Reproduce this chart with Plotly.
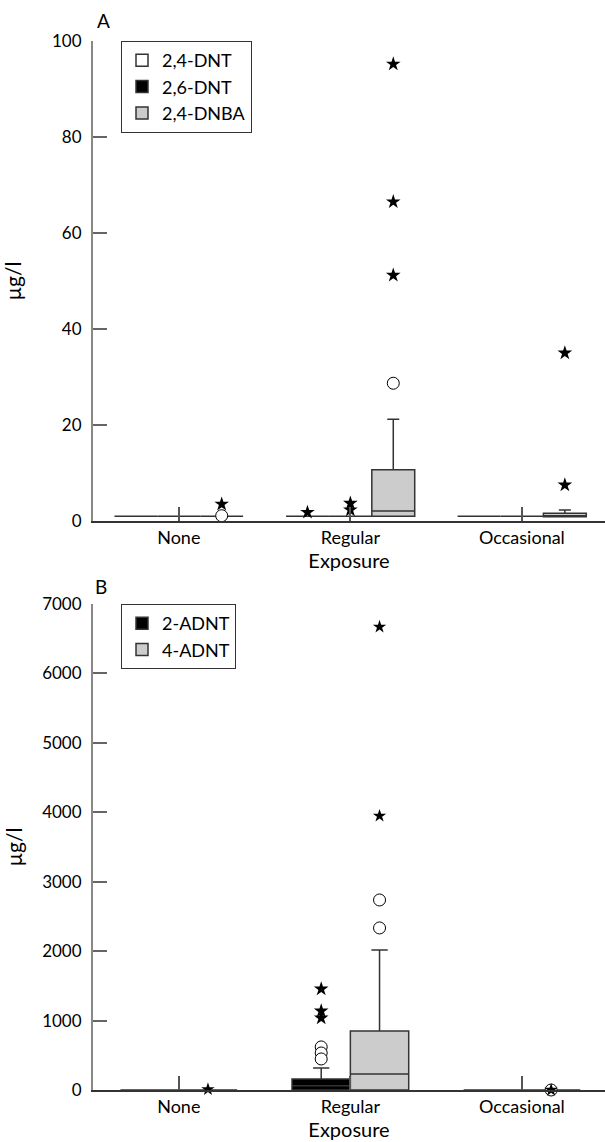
import plotly.graph_objects as go

# ---------------- data ----------------
categories = ["None", "Regular", "Occasional"]
cat_pos = [0, 1, 2]

# Panel A: nitrotoluenes in urine (ug/l)
dnt24_q1 = [1.0, 1.0, 1.0]
dnt24_med = [1.0, 1.0, 1.0]
dnt24_q3 = [1.0, 1.0, 1.0]
dnt24_lo = [1.0, 1.0, 1.0]
dnt24_hi = [1.0, 1.0, 1.0]
dnt24_star_cat = [1]
dnt24_star_val = [1.8]

dnt26_q1 = [1.0, 1.0, 1.0]
dnt26_med = [1.0, 1.0, 1.0]
dnt26_q3 = [1.0, 1.0, 1.0]
dnt26_lo = [1.0, 1.0, 1.0]
dnt26_hi = [1.0, 1.0, 1.0]
dnt26_star_cat = [1, 1]
dnt26_star_val = [3.7, 2.3]

dnba_q1 = [1.0, 1.0, 0.9]
dnba_med = [1.0, 2.1, 1.0]
dnba_q3 = [1.0, 10.7, 1.6]
dnba_lo = [1.0, 1.0, 0.9]
dnba_hi = [1.0, 21.2, 2.3]
dnba_circle_cat = [0, 1]
dnba_circle_val = [1.1, 28.7]
dnba_star_cat = [0, 1, 1, 1, 2, 2]
dnba_star_val = [3.5, 95.2, 66.5, 51.2, 35.0, 7.5]

# Panel B: aminodinitrotoluenes (ug/l)
adnt2_q1 = [0, 0, 0]
adnt2_med = [0, 60, 0]
adnt2_q3 = [0, 158, 0]
adnt2_lo = [0, 0, 0]
adnt2_hi = [0, 317, 0]
adnt2_circle_cat = [1, 1, 1]
adnt2_circle_val = [620, 533, 447]
adnt2_star_cat = [1, 1, 1]
adnt2_star_val = [1455, 1138, 1037]

adnt4_q1 = [0, 0, 0]
adnt4_med = [0, 230, 0]
adnt4_q3 = [0, 850, 0]
adnt4_lo = [0, 0, 0]
adnt4_hi = [0, 2017, 0]
adnt4_circle_cat = [1, 1, 2]
adnt4_circle_val = [2737, 2334, 0]
adnt4_star_cat = [0, 1, 1, 2]
adnt4_star_val = [10, 6671, 3948, 0]

# ---------------- styling ----------------
FONT = "Lato"
EDGE = "#333333"
GRAY = "#cccccc"

fig = go.Figure()


def add_box(name, off, width, q1, med, q3, lo, hi, fill, xa, ya, leg):
    fig.add_trace(go.Box(
        name=name, x=[p + off for p in cat_pos],
        q1=q1, median=med, q3=q3, lowerfence=lo, upperfence=hi,
        width=width, whiskerwidth=0.28, fillcolor=fill,
        line=dict(color=EDGE, width=1.5), boxpoints=False,
        xaxis=xa, yaxis=ya, legend=leg, hoverinfo="skip",
    ))


def add_points(cats, vals, off, symbol, xa, ya, size=11):
    if not vals:
        return
    if symbol == "circle":
        marker = dict(symbol="circle", size=size, color="white",
                      line=dict(color="black", width=1))
    else:
        marker = dict(symbol="star", size=size, color="black",
                      line=dict(width=0))
    fig.add_trace(go.Scatter(
        x=[c + off for c in cats], y=vals, mode="markers", marker=marker,
        cliponaxis=False, showlegend=False, xaxis=xa, yaxis=ya,
        hoverinfo="skip",
    ))


# Panel A
wa = 0.25
add_box("2,4-DNT", -wa, wa, dnt24_q1, dnt24_med, dnt24_q3, dnt24_lo, dnt24_hi,
        "white", "x", "y", "legend")
add_box("2,6-DNT", 0, wa, dnt26_q1, dnt26_med, dnt26_q3, dnt26_lo, dnt26_hi,
        "black", "x", "y", "legend")
add_box("2,4-DNBA", wa, wa, dnba_q1, dnba_med, dnba_q3, dnba_lo, dnba_hi,
        GRAY, "x", "y", "legend")
add_points(dnt24_star_cat, dnt24_star_val, -wa, "star", "x", "y")
add_points(dnt26_star_cat, dnt26_star_val, 0, "star", "x", "y")
add_points(dnba_circle_cat, dnba_circle_val, wa, "circle", "x", "y", size=12)
add_points(dnba_star_cat, dnba_star_val, wa, "star", "x", "y")

# Panel B
ob = 0.17
wb = 0.34
add_box("2-ADNT", -ob, wb, adnt2_q1, adnt2_med, adnt2_q3, adnt2_lo, adnt2_hi,
        "black", "x2", "y2", "legend2")
add_box("4-ADNT", ob, wb, adnt4_q1, adnt4_med, adnt4_q3, adnt4_lo, adnt4_hi,
        GRAY, "x2", "y2", "legend2")
add_points(adnt2_circle_cat, adnt2_circle_val, -ob, "circle", "x2", "y2", size=12)
add_points(adnt2_star_cat, adnt2_star_val, -ob, "star", "x2", "y2")
add_points(adnt4_circle_cat, adnt4_circle_val, ob, "circle", "x2", "y2", size=12)
add_points(adnt4_star_cat, adnt4_star_val, ob, "star", "x2", "y2", size=10)

W, H = 605, 1142
ML, MR, MT, MB = 93, 0, 41, 52
ph = H - MT - MB
yA0 = (H - MB - 521) / ph
yB1 = (H - MB - 604) / ph

xcommon = dict(
    range=[-0.5, 2.484], tickvals=cat_pos, ticktext=categories,
    ticks="inside", ticklen=14, tickwidth=1.5, tickcolor="#555555",
    showline=True, linecolor=EDGE, linewidth=1.5, showgrid=False,
    zeroline=False, tickfont=dict(size=18, color="black"),
    ticklabelstandoff=0, automargin=False,
)
ycommon = dict(
    ticks="inside", ticklen=14, tickwidth=1.5, tickcolor="#666666",
    showline=True, linecolor="#888888", linewidth=2, showgrid=False,
    zeroline=False, tickfont=dict(size=17, color="black"),
    ticklabelstandoff=6, automargin=False,
)

leg_common = dict(
    xanchor="left", yanchor="top", bordercolor=EDGE, borderwidth=1,
    bgcolor="white", font=dict(size=18, color="black", family=FONT),
    tracegroupgap=0, itemwidth=30,
)

fig.update_layout(
    width=W, height=H,
    margin=dict(l=ML, r=MR, t=MT, b=MB, autoexpand=False),
    paper_bgcolor="white", plot_bgcolor="white",
    font=dict(family=FONT, color="black", size=17),
    boxmode="overlay",
    xaxis=dict(xcommon, domain=[0, 1], anchor="y",
               title=dict(text="Exposure", font=dict(size=20), standoff=4)),
    yaxis=dict(ycommon, domain=[yA0, 1], anchor="x", range=[0, 100],
               tickvals=[0, 20, 40, 60, 80, 100],
               title=dict(text="µg/l", font=dict(size=21), standoff=26)),
    xaxis2=dict(xcommon, domain=[0, 1], anchor="y2",
                title=dict(text="Exposure", font=dict(size=20), standoff=4)),
    yaxis2=dict(ycommon, domain=[0, yB1], anchor="x2", range=[0, 7000],
                tickvals=[0, 1000, 2000, 3000, 4000, 5000, 6000, 7000],
                title=dict(text="µg/l", font=dict(size=21), standoff=14)),
    legend=dict(leg_common, x=(121 - ML) / (W - ML), y=1.0),
    legend2=dict(leg_common, x=(121 - ML) / (W - ML), y=yB1),
    annotations=[
        dict(text="A", x=(103 - ML) / (W - ML), y=1 + 21 / ph, xref="paper",
             yref="paper", showarrow=False, xanchor="center", yanchor="middle",
             font=dict(size=19)),
        dict(text="B", x=(101 - ML) / (W - ML), y=(H - MB - 586) / ph,
             xref="paper", yref="paper", showarrow=False, xanchor="center",
             yanchor="middle", font=dict(size=19)),
    ],
)

fig.write_html(
    "out.html",
    config={"displayModeBar": False},
    post_script="document.body.style.margin='0';"
                "document.body.style.overflow='hidden';",
)
